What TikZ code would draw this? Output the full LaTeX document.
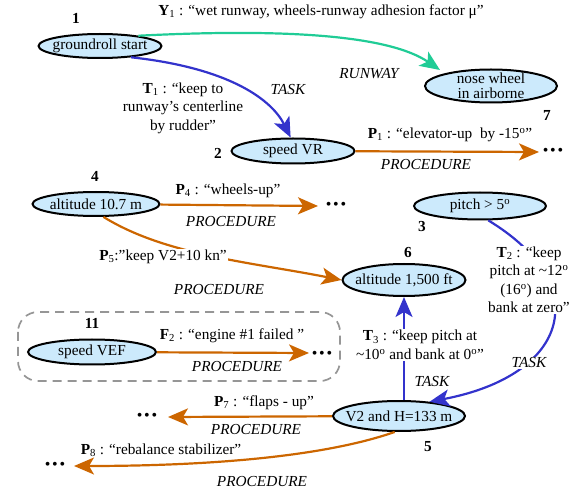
\documentclass[tikz,border=0pt]{standalone}
\usepackage{fontspec}
\setmainfont{Liberation Serif}
\usetikzlibrary{arrows.meta,shapes.geometric}
\definecolor{statefill}{RGB}{204,234,252}
\definecolor{taskblue}{RGB}{51,51,204}
\definecolor{procorange}{RGB}{204,102,0}
\definecolor{runwaygreen}{RGB}{32,204,150}
\definecolor{groupgray}{RGB}{150,150,150}
\tikzset{
  txt/.style={font=\fontsize{15.3}{18.5}\selectfont, inner sep=1pt},
  state/.style={ellipse, draw=black, line width=2pt, fill=statefill, inner sep=0pt,
    label={[txt, align=center]center:#1}},
  num/.style={font=\fontsize{15.3}{17}\selectfont\bfseries, inner sep=0pt},
  kind/.style={txt, font=\fontsize{15.3}{17}\selectfont\itshape},
  lbl/.style={txt, align=center},
  cover/.style={fill=white},
  tip/.style={-{Stealth[length=20pt,width=17pt,inset=5pt]}},
  taskedge/.style={tip, draw=taskblue, line width=2.2pt},
  procedge/.style={tip, draw=procorange, line width=2.2pt},
  runwayedge/.style={tip, draw=runwaygreen, line width=2.2pt},
  dots/.style={font=\fontsize{16}{16}\selectfont, inner sep=0pt},
  group/.style={draw=groupgray, line width=1.7pt, dash pattern=on 9pt off 6pt, rounded corners=20pt}
}
\newcommand{\opendots}{•\hspace{1.8pt}•\hspace{1.8pt}•}
\begin{document}
\begin{tikzpicture}[x=1pt,y=-1pt]
\useasboundingbox (0,0) rectangle (574,492);

% dashed group around the engine-failure state
\draw[group] (18,312) rectangle (340,381);

% states
\node[state={groundroll start}, minimum width=123pt, minimum height=24pt] (s1) at (100,46) {};
\node[state={speed VR}, minimum width=123pt, minimum height=25pt] (s2) at (293,151) {};
\node[state={nose wheel\\[-3pt]in airborne}, minimum width=132pt, minimum height=33pt] (s7) at (491,86) {};
\node[state={altitude 10.7 m}, minimum width=127pt, minimum height=24pt] (s4) at (96,204) {};
\node[state={pitch > 5\textsuperscript{o}}, minimum width=132pt, minimum height=27pt] (s3) at (480,206) {};
\node[state={altitude 1,500 ft}, minimum width=123pt, minimum height=32pt] (s6) at (404,280) {};
\node[state={speed VEF}, minimum width=128pt, minimum height=25pt] (s11) at (92,352) {};
\node[state={V2 and H=133 m}, minimum width=132pt, minimum height=30pt] (s5) at (399,416) {};

% state numbers
\node[num] (k1) at (76,18) {1};
\node[num] (k2) at (218,153) {2};
\node[num] (k7) at (547,115) {7};
\node[num] (k4) at (95,176) {4};
\node[num] (k3) at (422,227) {3};
\node[num] (k6) at (408,253) {6};
\node[num] (k11) at (92,323) {11};
\node[num] (k5) at (428,447) {5};

% open ends
\node[dots] (d1) at (553,152) {\opendots};
\node[dots] (d4) at (336,206) {\opendots};
\node[dots] (d11) at (322,355) {\opendots};
\node[dots] (d7) at (147,417) {\opendots};
\node[dots] (d8) at (55,466) {\opendots};
\coordinate (e1) at (539,152);
\coordinate (e4) at (318,206);
\coordinate (e11) at (309,353);
\coordinate (e7) at (168,417);
\coordinate (e8) at (74,466);

% runway condition
\draw[runwayedge] (s1.15) .. controls (290,28) and (390,36) .. (440,70);
\node[lbl] (y1) at (321,12) {\textbf{Y}\textsubscript{1} : “wet runway, wheels-runway adhesion factor μ”};
\node[kind] (y1k) at (369,74) {RUNWAY};

% tasks
\draw[taskedge] (s1.-20) .. controls (230,68) and (272,100) .. (s2.100);
\node[lbl] (t1) at (183,108) {\textbf{T}\textsubscript{1} : “keep to\\runway’s centerline\\by rudder”};
\node[kind] (t1k) at (288,90) {TASK};

\draw[taskedge] (s3.-60) .. controls (595,285) and (570,375) .. (s5.25);
\node[lbl, cover] (t2) at (529,280) {\textbf{T}\textsubscript{2} : “keep\\pitch at \textasciitilde 12\textsuperscript{o}\\(16\textsuperscript{o}) and\\bank at zero”};
\node[kind, cover] (t2k) at (529,363) {TASK};

\draw[taskedge] (s5.north -| s6.south) -- (s6.south);
\node[lbl, cover] (t3) at (420,345) {\textbf{T}\textsubscript{3} : “keep pitch at\\\textasciitilde 10\textsuperscript{o} and bank at 0\textsuperscript{o}”};
\node[kind] (t3k) at (432,382) {TASK};

% procedures
\draw[procedge] (s2) -- (e1);
\node[lbl] (p1) at (450,135) {\textbf{P}\textsubscript{1} : “elevator-up\ \ by -15\textsuperscript{o}”};
\node[kind] (p1k) at (426,165) {PROCEDURE};

\draw[procedge] (s4) -- (e4);
\node[lbl] (p4) at (228,191) {\textbf{P}\textsubscript{4} : “wheels-up”};
\node[kind] (p4k) at (231,222) {PROCEDURE};

\draw[procedge] (s4.-60) .. controls (165,255) and (250,262) .. (s6.west);
\node[lbl, cover] (p5) at (163,257) {\textbf{P}\textsubscript{5}:”keep V2+10 kn”};
\node[kind] (p5k) at (219,290) {PROCEDURE};

\draw[procedge] (s11) -- (e11);
\node[lbl] (f2) at (232,336) {\textbf{F}\textsubscript{2} : “engine \#1 failed ”};
\node[kind] (f2k) at (237,367) {PROCEDURE};

\draw[procedge] (s5) -- (e7);
\node[lbl] (p7) at (264,403) {\textbf{P}\textsubscript{7} : “flaps - up”};
\node[kind] (p7k) at (256,430) {PROCEDURE};

\draw[procedge] (s5.-105) .. controls (320,458) and (200,466) .. (e8);
\node[lbl] (p8) at (161,450) {\textbf{P}\textsubscript{8} : “rebalance stabilizer”};
\node[kind] (p8k) at (262,482) {PROCEDURE};
\end{tikzpicture}
\end{document}
